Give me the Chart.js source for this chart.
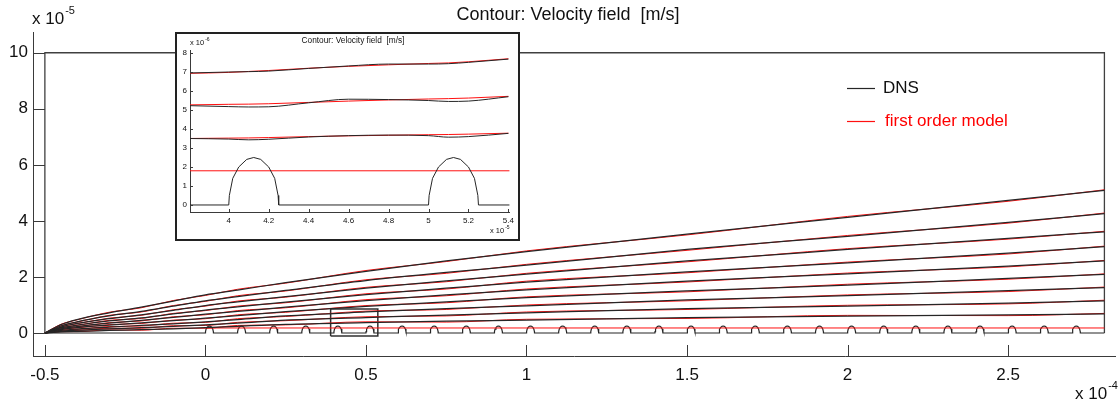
<!DOCTYPE html>
<html>
<head>
<meta charset="utf-8">
<script src="https://cdn.jsdelivr.net/npm/chart.js@4.4.1/dist/chart.umd.min.js"></script>
<style>
  html, body { margin: 0; padding: 0; background: #fff; }
  #wrap { position: relative; width: 1120px; height: 405px; overflow: hidden; }
  #main { position: absolute; left: 0; top: 0; }
  #insetBox { position: absolute; left: 175px; top: 32px; width: 341px; height: 205px;
              border: 2px solid #222; background: #fff; }
  #inset { display: block; }
</style>
</head>
<body>
<div id="wrap">
  <canvas id="main" width="1120" height="405"></canvas>
  <div id="insetBox"><canvas id="inset" width="341" height="205"></canvas></div>
</div>
<script>
/* ---------- main plot data (x in 1e-4 m, y in 1e-5 m) ---------- */
const xTicks = [-0.5, 0, 0.5, 1, 1.5, 2, 2.5];
const yTicks = [0, 2, 4, 6, 8, 10];

const contourX = [-0.5, -0.45, -0.4, -0.3, -0.2, -0.1, 0, 0.1, 0.25, 0.5, 0.75, 1.0, 1.5, 2.0, 2.5, 2.8];

// DNS contours, top to bottom
const dns1 = [0, 0.30, 0.48, 0.72, 0.92, 1.14, 1.36, 1.53, 1.80, 2.20, 2.57, 2.90, 3.53, 4.13, 4.73, 5.09];
const dns2 = [0, 0.25, 0.40, 0.61, 0.77, 0.96, 1.15, 1.30, 1.52, 1.87, 2.16, 2.42, 2.98, 3.45, 3.95, 4.26];
const dns3 = [0, 0.21, 0.34, 0.51, 0.65, 0.81, 0.98, 1.11, 1.30, 1.60, 1.86, 2.10, 2.57, 2.98, 3.38, 3.61];
const dns4 = [0, 0.18, 0.28, 0.43, 0.54, 0.68, 0.82, 0.93, 1.10, 1.37, 1.60, 1.82, 2.18, 2.50, 2.85, 3.08];
const dns5 = [0, 0.15, 0.23, 0.35, 0.45, 0.56, 0.67, 0.77, 0.92, 1.16, 1.36, 1.54, 1.85, 2.11, 2.39, 2.57];
const dns6 = [0, 0.12, 0.19, 0.28, 0.36, 0.44, 0.53, 0.62, 0.76, 0.95, 1.11, 1.26, 1.50, 1.71, 1.95, 2.09];
const dns7 = [0, 0.09, 0.14, 0.21, 0.27, 0.33, 0.40, 0.48, 0.61, 0.75, 0.87, 0.97, 1.18, 1.33, 1.51, 1.62];
const dns8 = [0, 0.06, 0.10, 0.15, 0.19, 0.24, 0.29, 0.35, 0.46, 0.55, 0.64, 0.72, 0.87, 0.96, 1.07, 1.15];
const dns9 = [0, 0.04, 0.06, 0.09, 0.12, 0.15, 0.19, 0.24, 0.31, 0.37, 0.42, 0.46, 0.55, 0.60, 0.65, 0.68];

// first order model contours, top to bottom
const mod1 = [0, 0.31, 0.47, 0.74, 0.90, 1.16, 1.34, 1.56, 1.78, 2.23, 2.55, 2.93, 3.50, 4.16, 4.70, 5.11];
const mod2 = [0, 0.26, 0.39, 0.63, 0.75, 0.98, 1.13, 1.33, 1.50, 1.90, 2.13, 2.45, 2.95, 3.48, 3.92, 4.28];
const mod3 = [0, 0.22, 0.33, 0.53, 0.63, 0.83, 0.96, 1.14, 1.28, 1.63, 1.83, 2.13, 2.54, 3.01, 3.35, 3.63];
const mod4 = [0, 0.19, 0.27, 0.45, 0.52, 0.70, 0.80, 0.96, 1.08, 1.40, 1.57, 1.85, 2.15, 2.53, 2.82, 3.10];
const mod5 = [0, 0.16, 0.22, 0.37, 0.43, 0.58, 0.65, 0.80, 0.90, 1.19, 1.33, 1.57, 1.82, 2.14, 2.36, 2.59];
const mod6 = [0, 0.13, 0.18, 0.30, 0.34, 0.46, 0.51, 0.65, 0.74, 0.98, 1.08, 1.29, 1.47, 1.74, 1.92, 2.11];
const mod7 = [0, 0.10, 0.13, 0.23, 0.25, 0.35, 0.38, 0.51, 0.59, 0.78, 0.84, 1.00, 1.15, 1.36, 1.48, 1.64];
const mod8 = [0, 0.07, 0.09, 0.17, 0.17, 0.26, 0.27, 0.38, 0.44, 0.58, 0.61, 0.75, 0.84, 0.99, 1.04, 1.17];
const mod9 = [0, 0.05, 0.05, 0.11, 0.10, 0.17, 0.17, 0.27, 0.29, 0.40, 0.39, 0.49, 0.52, 0.63, 0.62, 0.70];

// model slip line
const slipX = [0, 2.8];
const slipY = [0.18, 0.18];

// wall bumps: start positions and one bump profile
const bumpStarts = [0, 0.1, 0.2, 0.3, 0.4, 0.5, 0.6, 0.7, 0.8, 0.9, 1.0, 1.1, 1.2, 1.3,
                    1.4, 1.5, 1.6, 1.7, 1.8, 1.9, 2.0, 2.1, 2.2, 2.3, 2.4, 2.5, 2.6, 2.7];
const bumpDx = [0, 0.0003, 0.002, 0.005, 0.009, 0.0125, 0.016, 0.020, 0.023, 0.0247, 0.025];
const bumpDy = [0, 0.05, 0.14, 0.20, 0.24, 0.25, 0.24, 0.20, 0.14, 0.05, 0];

// computational domain outline and zoom window
const domainX = [-0.5, -0.5, 2.8, 2.8];
const domainY = [0, 10, 10, 0];
const zoomX = [0.39, 0.537, 0.537, 0.39, 0.39];
const zoomY = [-0.107, -0.107, 0.856, 0.856, -0.107];

/* ---------- inset data (x in 1e-5 m, y in 1e-6 m) ---------- */
const inXTicks = [4, 4.2, 4.4, 4.6, 4.8, 5, 5.2, 5.4];
const inYTicks = [0, 1, 2, 3, 4, 5, 6, 7, 8];
const insetX = [3.8, 4.0, 4.1, 4.2, 4.4, 4.6, 4.8, 5.0, 5.1, 5.2, 5.4];
const inDns1 = [6.95, 7.00, 7.02, 7.05, 7.19, 7.32, 7.42, 7.42, 7.44, 7.51, 7.68];
const inDns2 = [5.23, 5.18, 5.16, 5.17, 5.38, 5.57, 5.55, 5.50, 5.45, 5.47, 5.70];
const inDns3 = [3.50, 3.47, 3.43, 3.46, 3.58, 3.65, 3.68, 3.65, 3.57, 3.60, 3.77];
const inMod1 = [6.93, 6.98, 7.03, 7.08, 7.20, 7.30, 7.38, 7.45, 7.48, 7.54, 7.70];
const inMod2 = [5.27, 5.30, 5.31, 5.33, 5.40, 5.47, 5.53, 5.58, 5.60, 5.63, 5.72];
const inMod3 = [3.50, 3.52, 3.53, 3.55, 3.60, 3.64, 3.67, 3.70, 3.71, 3.73, 3.78];
const inSlipX = [3.8, 5.42];
const inSlipY = [1.8, 1.8];

/* ---------- helpers ---------- */
const FONT = "'Liberation Sans', Arial, Helvetica, sans-serif";
const DNS_COLOR = "#262626";
const MODEL_COLOR = "#ff1010";
const AXIS_COLOR = "#3a3a3a";

function pts(xs, ys) {
    return xs.map((x, i) => ({ x: x, y: ys[i] }));
}

// wall line with bumps; k scales both axes (1 for main, 10 for inset units)
function wallPts(x0, x1, k) {
    const out = [{ x: x0, y: 0 }];
    for (const s of bumpStarts) {
        const sx = s * k;
        if (sx < x0 - 0.5 * k || sx > x1) continue;
        for (let j = 0; j < bumpDx.length; j++) {
            out.push({ x: sx + bumpDx[j] * k, y: bumpDy[j] * k });
        }
    }
    out.push({ x: x1, y: 0 });
    return out;
}

function line(data, color, width, smooth) {
    return {
        data: data,
        showLine: true,
        borderColor: color,
        backgroundColor: color,
        borderWidth: width,
        pointRadius: 0,
        fill: false,
        tension: smooth ? 0.4 : 0,
        cubicInterpolationMode: smooth ? "monotone" : "default"
    };
}

function fixedTicks(list) {
    return s => { s.ticks = list.map(v => ({ value: v })); };
}

// MATLAB-like ticks drawn inward
function drawInnerTicks(chart, xs, ys, len) {
    const ctx = chart.ctx;
    const a = chart.chartArea;
    const sx = chart.scales.x, sy = chart.scales.y;
    ctx.save();
    ctx.strokeStyle = AXIS_COLOR;
    ctx.lineWidth = 1;
    ctx.beginPath();
    for (const v of xs) {
        const p = Math.round(sx.getPixelForValue(v)) + 0.5;
        ctx.moveTo(p, a.bottom);
        ctx.lineTo(p, a.bottom - len.x);
    }
    for (const v of ys) {
        const p = Math.round(sy.getPixelForValue(v)) + 0.5;
        ctx.moveTo(a.left, p);
        ctx.lineTo(a.left + len.y, p);
    }
    ctx.stroke();
    ctx.restore();
}

function drawPower(ctx, x, y, base, exp, size, supSize) {
    ctx.font = size + "px " + FONT;
    ctx.textAlign = "left";
    ctx.textBaseline = "middle";
    ctx.fillText(base, x, y);
    const w = ctx.measureText(base).width;
    ctx.font = supSize + "px " + FONT;
    ctx.fillText(exp, x + w + 1, y - size * 0.45);
}

/* ---------- main chart ---------- */
const mainDatasets = [
    line(pts(contourX, dns1), DNS_COLOR, 1.25, true),
    line(pts(contourX, dns2), DNS_COLOR, 1.25, true),
    line(pts(contourX, dns3), DNS_COLOR, 1.25, true),
    line(pts(contourX, dns4), DNS_COLOR, 1.25, true),
    line(pts(contourX, dns5), DNS_COLOR, 1.25, true),
    line(pts(contourX, dns6), DNS_COLOR, 1.25, true),
    line(pts(contourX, dns7), DNS_COLOR, 1.25, true),
    line(pts(contourX, dns8), DNS_COLOR, 1.25, true),
    line(pts(contourX, dns9), DNS_COLOR, 1.25, true),
    line(pts(slipX, slipY), MODEL_COLOR, 1, false),
    line(wallPts(-0.5, 2.8, 1), DNS_COLOR, 1.2, false),
    line(pts(contourX, mod1), MODEL_COLOR, 1, true),
    line(pts(contourX, mod2), MODEL_COLOR, 1, true),
    line(pts(contourX, mod3), MODEL_COLOR, 1, true),
    line(pts(contourX, mod4), MODEL_COLOR, 1, true),
    line(pts(contourX, mod5), MODEL_COLOR, 1, true),
    line(pts(contourX, mod6), MODEL_COLOR, 1, true),
    line(pts(contourX, mod7), MODEL_COLOR, 1, true),
    line(pts(contourX, mod8), MODEL_COLOR, 1, true),
    line(pts(contourX, mod9), MODEL_COLOR, 1, true),
    line(pts(domainX, domainY), "#404040", 1.3, false),
    line(pts(zoomX, zoomY), "#303030", 1.5, false)
];

const mainDecor = {
    id: "mainDecor",
    afterDraw(chart) {
        const ctx = chart.ctx;
        drawInnerTicks(chart, xTicks, yTicks, { x: 11, y: 12 });
        ctx.save();
        ctx.fillStyle = "#111";
        ctx.font = "18px " + FONT;
        ctx.textAlign = "center";
        ctx.textBaseline = "middle";
        ctx.fillText("Contour: Velocity field  [m/s]", 568, 15);
        drawPower(ctx, 32, 19, "x 10", "-5", 17, 11);
        drawPower(ctx, 1075, 394, "x 10", "-4", 17, 11);

        // legend
        ctx.lineWidth = 1.2;
        ctx.strokeStyle = DNS_COLOR;
        ctx.beginPath(); ctx.moveTo(847, 88.5); ctx.lineTo(875, 88.5); ctx.stroke();
        ctx.strokeStyle = MODEL_COLOR;
        ctx.beginPath(); ctx.moveTo(847, 121.5); ctx.lineTo(875, 121.5); ctx.stroke();
        ctx.font = "17px " + FONT;
        ctx.textAlign = "left";
        ctx.fillStyle = "#111";
        ctx.fillText("DNS", 883, 88);
        ctx.fillStyle = "#ff0000";
        ctx.fillText("first order model", 885, 121);
        ctx.restore();
    }
};

new Chart(document.getElementById("main"), {
    type: "scatter",
    data: { datasets: mainDatasets },
    options: {
        responsive: false,
        animation: false,
        layout: { padding: { top: 32, right: 5, left: 0, bottom: 0 } },
        plugins: { legend: { display: false }, tooltip: { enabled: false }, title: { display: false } },
        scales: {
            x: {
                type: "linear",
                min: -0.537,
                max: 2.833,
                afterBuildTicks: fixedTicks(xTicks),
                afterFit: s => { s.height = 49; },
                grid: { display: false, drawTicks: false },
                border: { display: true, color: AXIS_COLOR, width: 1 },
                ticks: {
                    autoSkip: false, maxRotation: 0, padding: 9, color: "#111",
                    font: { family: FONT, size: 17 },
                    callback: v => String(v)
                }
            },
            y: {
                type: "linear",
                min: -0.82,
                max: 10.74,
                afterBuildTicks: fixedTicks(yTicks),
                afterFit: s => { s.width = 33; },
                grid: { display: false, drawTicks: false },
                border: { display: true, color: AXIS_COLOR, width: 1 },
                ticks: {
                    autoSkip: false, padding: 5, color: "#111",
                    font: { family: FONT, size: 17 },
                    callback: v => String(v)
                }
            }
        }
    },
    plugins: [mainDecor]
});

/* ---------- inset chart ---------- */
const insetDatasets = [
    line(pts(insetX, inDns1), DNS_COLOR, 1, true),
    line(pts(insetX, inDns2), DNS_COLOR, 1, true),
    line(pts(insetX, inDns3), DNS_COLOR, 1, true),
    line(wallPts(3.8, 5.42, 10), DNS_COLOR, 1, false),
    line(pts(insetX, inMod1), MODEL_COLOR, 1, true),
    line(pts(insetX, inMod2), MODEL_COLOR, 1, true),
    line(pts(insetX, inMod3), MODEL_COLOR, 1, true),
    line(pts(inSlipX, inSlipY), MODEL_COLOR, 1, false)
];

const insetDecor = {
    id: "insetDecor",
    afterDraw(chart) {
        const ctx = chart.ctx;
        drawInnerTicks(chart, inXTicks, inYTicks, { x: 3, y: 3 });
        ctx.save();
        ctx.fillStyle = "#111";
        ctx.font = "8.3px " + FONT;
        ctx.textAlign = "center";
        ctx.textBaseline = "middle";
        ctx.fillText("Contour: Velocity field  [m/s]", 176, 7);
        drawPower(ctx, 13, 9, "x 10", "-6", 7.5, 5);
        drawPower(ctx, 313, 197, "x 10", "-5", 7.5, 5);
        ctx.restore();
    }
};

new Chart(document.getElementById("inset"), {
    type: "scatter",
    data: { datasets: insetDatasets },
    options: {
        responsive: false,
        animation: false,
        layout: { padding: { top: 16, right: 7, left: 0, bottom: 0 } },
        plugins: { legend: { display: false }, tooltip: { enabled: false }, title: { display: false } },
        scales: {
            x: {
                type: "linear",
                min: 3.806,
                max: 5.405,
                afterBuildTicks: fixedTicks(inXTicks),
                afterFit: s => { s.height = 27; },
                grid: { display: false, drawTicks: false },
                border: { display: true, color: AXIS_COLOR, width: 1 },
                ticks: {
                    autoSkip: false, maxRotation: 0, padding: 4, color: "#111",
                    font: { family: FONT, size: 8 },
                    callback: v => String(v)
                }
            },
            y: {
                type: "linear",
                min: -0.37,
                max: 8.16,
                afterBuildTicks: fixedTicks(inYTicks),
                afterFit: s => { s.width = 13; },
                grid: { display: false, drawTicks: false },
                border: { display: true, color: AXIS_COLOR, width: 1 },
                ticks: {
                    autoSkip: false, padding: 3, color: "#111",
                    font: { family: FONT, size: 8 },
                    callback: v => String(v)
                }
            }
        }
    },
    plugins: [insetDecor]
});
</script>
</body>
</html>
